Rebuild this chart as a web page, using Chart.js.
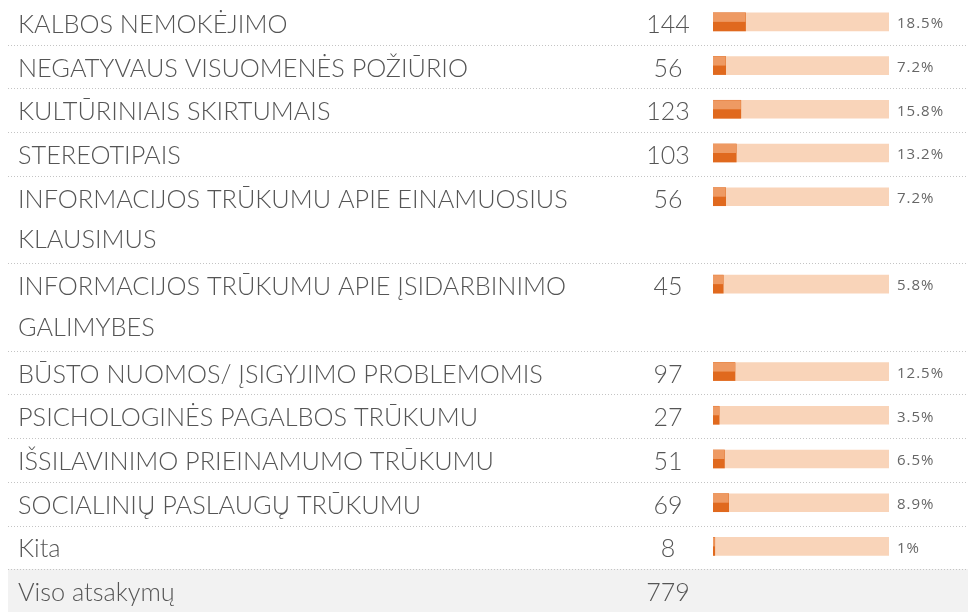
<!DOCTYPE html>
<html>
<head>
<meta charset="utf-8">
<script src="https://cdn.jsdelivr.net/npm/chart.js@4"></script>
<style>
  html, body { margin: 0; padding: 0; background: #fff; }
  #wrap { width: 968px; height: 612px; position: relative; }
</style>
</head>
<body>
<div id="wrap"><canvas id="answersChart"></canvas></div>
<script>
// answer options, each as the text lines it is printed on
var rowLines = [
    ['KALBOS NEMOKĖJIMO'],
    ['NEGATYVAUS VISUOMENĖS POŽIŪRIO'],
    ['KULTŪRINIAIS SKIRTUMAIS'],
    ['STEREOTIPAIS'],
    ['INFORMACIJOS TRŪKUMU APIE EINAMUOSIUS', 'KLAUSIMUS'],
    ['INFORMACIJOS TRŪKUMU APIE ĮSIDARBINIMO', 'GALIMYBES'],
    ['BŪSTO NUOMOS/ ĮSIGYJIMO PROBLEMOMIS'],
    ['PSICHOLOGINĖS PAGALBOS TRŪKUMU'],
    ['IŠSILAVINIMO PRIEINAMUMO TRŪKUMU'],
    ['SOCIALINIŲ PASLAUGŲ TRŪKUMU'],
    ['Kita']
];
var answerCounts   = [144, 56, 123, 103, 56, 45, 97, 27, 51, 69, 8];
var answerPercents = [18.5, 7.2, 15.8, 13.2, 7.2, 5.8, 12.5, 3.5, 6.5, 8.9, 1];
var totalLabel = 'Viso atsakymų';
var totalCount = 779;

var LABEL_FONT = '300 25.3px Lato';
var COUNT_FONT = '300 25px Lato';
var PCT_FONT = '15px "Open Sans"';
var TEXT_COLOR = '#555';

// one category slot per printed line; the bar sits on the first line of a row
var slotText = [], slotRow = [], slotFirst = [], valueSlots = [], trackSlots = [];
rowLines.forEach(function(lines, r) {
    lines.forEach(function(line, j) {
        slotText.push(line);
        slotRow.push(r);
        slotFirst.push(j === 0);
        valueSlots.push(j === 0 ? answerPercents[r] : null);
        trackSlots.push(j === 0 ? 100 : null);
    });
});
slotText.push(totalLabel);
slotRow.push(-1);
slotFirst.push(true);
valueSlots.push(null);
trackSlots.push(null);

var tablePlugin = {
    id: 'answerTable',
    beforeDatasetsDraw: function(chart) {
        var ctx = chart.ctx, y = chart.scales.y;
        var slotH = y.getPixelForValue(1) - y.getPixelForValue(0);
        var w = chart.width;
        ctx.save();
        for (var i = 0; i < slotText.length; i++) {
            var bottom = Math.round(y.getPixelForValue(i) + slotH / 2 + 1);
            if (slotRow[i + 1] === -1) {
                ctx.fillStyle = '#f2f2f2';
                ctx.fillRect(8, bottom, w - 8, chart.height - bottom);
            }
            var endOfRow = i + 1 < slotText.length && slotRow[i + 1] !== slotRow[i];
            if (endOfRow) {
                ctx.strokeStyle = '#c4c4c4';
                ctx.lineWidth = 1;
                ctx.setLineDash([1, 2]);
                ctx.beginPath();
                ctx.moveTo(8, bottom + 0.5);
                ctx.lineTo(w, bottom + 0.5);
                ctx.stroke();
            }
        }
        ctx.restore();
    },
    afterDatasetsDraw: function(chart) {
        var ctx = chart.ctx, y = chart.scales.y;
        var valueMeta = chart.getDatasetMeta(0);
        var trackMeta = chart.getDatasetMeta(1);
        ctx.save();
        // lighter upper half of each value bar
        valueMeta.data.forEach(function(bar, i) {
            if (valueSlots[i] === null) return;
            var top = bar.y - bar.height / 2;
            ctx.fillStyle = '#ee9a63';
            ctx.fillRect(bar.base, top, bar.x - bar.base, bar.height * 0.5);
        });
        for (var i = 0; i < slotText.length; i++) {
            var cy = y.getPixelForValue(i);
            ctx.fillStyle = TEXT_COLOR;
            ctx.font = LABEL_FONT;
            ctx.textBaseline = 'alphabetic';
            ctx.textAlign = 'left';
            // wrapped lines sit a little closer to the line above
            ctx.fillText(slotText[i], 18, cy + (slotFirst[i] ? 11 : 8));
            if (!slotFirst[i]) continue;
            var count = slotRow[i] === -1 ? totalCount : answerCounts[slotRow[i]];
            ctx.font = COUNT_FONT;
            ctx.textAlign = 'center';
            ctx.fillText(String(count), 668, cy + 11);
            if (slotRow[i] === -1) continue;
            var track = trackMeta.data[i];
            ctx.font = PCT_FONT;
            ctx.letterSpacing = '1px';
            ctx.textAlign = 'left';
            ctx.textBaseline = 'middle';
            ctx.fillStyle = '#666';
            ctx.fillText(answerPercents[slotRow[i]] + '%', track.x + 8, cy + 2);
            ctx.letterSpacing = '0px';
        }
        ctx.restore();
    }
};

new Chart(document.getElementById('answersChart'), {
    type: 'bar',
    data: {
        labels: slotText,
        datasets: [
            { data: valueSlots, backgroundColor: '#e0691e', borderWidth: 0, barThickness: 18, grouped: false, order: 0 },
            { data: trackSlots, backgroundColor: '#f9d4b9', borderWidth: 0, barThickness: 18, grouped: false, order: 1 }
        ]
    },
    options: {
        indexAxis: 'y',
        responsive: true,
        maintainAspectRatio: false,
        animation: false,
        layout: { padding: { left: 713, right: 79, top: 0, bottom: 0 } },
        plugins: { legend: { display: false }, tooltip: { enabled: false } },
        scales: {
            x: { display: false, min: 0, max: 100 },
            y: { display: false }
        }
    },
    plugins: [tablePlugin]
});
</script>
</body>
</html>
